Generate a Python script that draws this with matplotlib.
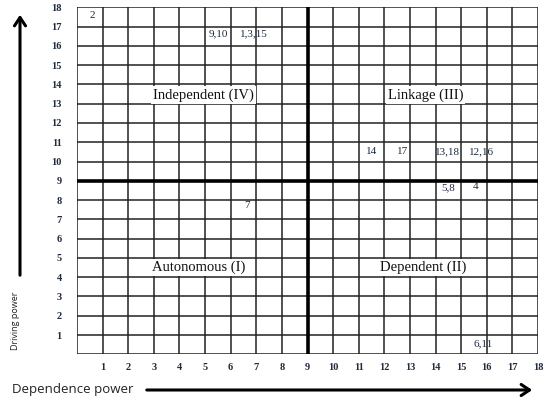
import matplotlib
matplotlib.use("Agg")
import matplotlib.pyplot as plt

# Variable groups and their (dependence, driving) positions on the MICMAC grid
node_labels = ["2", "9,10", "1,3,15", "14", "17", "13,18", "12,16", "5,8", "4", "7", "6,11"]
dependence = [0.6, 5.5, 6.9, 11.5, 12.7, 14.45, 15.8, 14.5, 15.55, 6.65, 15.85]
driving = [17.6, 16.65, 16.65, 10.5, 10.5, 10.5, 10.5, 8.65, 8.7, 7.7, 0.55]

# Quadrant names and where they sit
quadrant_names = ["Independent (IV)", "Linkage (III)", "Autonomous (I)", "Dependent (II)"]
quadrant_x = [4.95, 13.6, 4.75, 13.5]
quadrant_y = [13.45, 13.45, 4.5, 4.5]

x_ticks = list(range(1, 19))
y_ticks = list(range(1, 19))
grid_max = 18
midpoint = 9

fig = plt.figure(figsize=(5.5, 4.04), dpi=100)
ax = fig.add_axes([77 / 550, 49.7 / 404, 461 / 550, 347 / 404])
ax.set_xlim(0, grid_max)
ax.set_ylim(0, grid_max)

# cell grid
for v in range(0, grid_max + 1):
    ax.axvline(v, color="#222222", lw=1.1, zorder=1)
    ax.axhline(v, color="#222222", lw=1.1, zorder=1)
# quadrant dividers
ax.axvline(midpoint, color="black", lw=2.6, zorder=2)
ax.axhline(midpoint, color="black", lw=2.6, zorder=2)

for s in ax.spines.values():
    s.set_visible(False)
ax.tick_params(length=0)
ax.set_xticks(x_ticks)
ax.set_yticks(y_ticks)
ax.set_xticklabels([str(t) for t in x_ticks], family="Liberation Serif",
                   fontsize=7.5, color="#1f2a3c", fontweight="bold")
ax.set_yticklabels([str(t) for t in y_ticks], family="Liberation Serif",
                   fontsize=7.5, color="#1f2a3c", fontweight="bold")
ax.tick_params(axis="x", pad=6)
ax.tick_params(axis="y", pad=11)

for lab, xv, yv in zip(node_labels, dependence, driving):
    ax.text(xv, yv, lab, ha="center", va="center", fontsize=8,
            family="Liberation Serif", color="#1f2a3c", zorder=4)

for name, xv, yv in zip(quadrant_names, quadrant_x, quadrant_y):
    ax.text(xv, yv, name, ha="center", va="center", fontsize=10.5,
            family="Liberation Serif", color="#111111", zorder=4,
            bbox=dict(facecolor="white", edgecolor="none", pad=1.5))

# axis titles with arrows
fig.text(15 / 550, 1 - 321 / 404, "Driving power", rotation=90, ha="center",
         va="center", fontsize=6.5, family="Open Sans", color="#222222")
fig.text(12 / 550, 1 - 389 / 404, "Dependence power", ha="left", va="center",
         fontsize=9.5, family="Open Sans", color="#222222")
fig.add_artist(matplotlib.patches.FancyArrowPatch(
    (20 / 550, 1 - 278 / 404), (20 / 550, 1 - 12 / 404),
    transform=fig.transFigure, arrowstyle="->,head_length=6,head_width=4",
    color="black", lw=2.2, mutation_scale=1))
fig.add_artist(matplotlib.patches.FancyArrowPatch(
    (144 / 550, 1 - 390 / 404), (535 / 550, 1 - 390 / 404),
    transform=fig.transFigure, arrowstyle="->,head_length=6,head_width=4",
    color="black", lw=2.2, mutation_scale=1))

fig.savefig("out.png", dpi=100, facecolor="white")
